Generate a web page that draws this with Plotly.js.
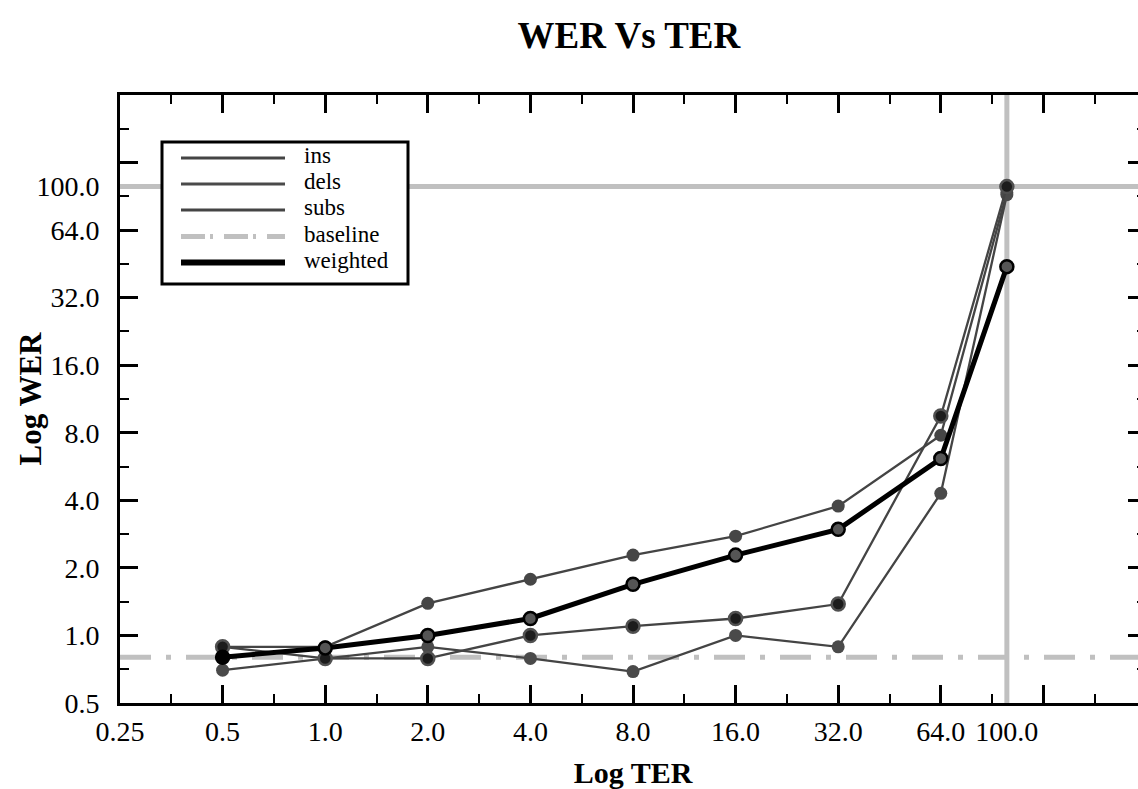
<!DOCTYPE html>
<html><head><meta charset="utf-8">
<script src="https://cdn.plot.ly/plotly-3.0.1.min.js"></script>
<style>html,body{margin:0;padding:0;overflow:hidden;background:#fff}#chart{width:1160px;height:789px}</style>
</head><body><div id="chart"></div>
<script>
// ---- data ----
const terValues   = [0.5, 1, 2, 4, 8, 16, 32, 64, 100];
const insWER      = [0.89, 0.89, 1.39, 1.78, 2.28, 2.77, 3.77, 7.8, 94];
const delsWER     = [0.7, 0.79, 0.89, 0.79, 0.69, 1.0, 0.89, 4.3, 92];
const subsWER     = [0.89, 0.79, 0.79, 1.0, 1.1, 1.19, 1.38, 9.5, 100];
const weightedWER = [0.8, 0.88, 1.0, 1.19, 1.69, 2.28, 2.97, 6.14, 44];
const baselineTER = [0.25, 256];
const baselineWER = [0.8, 0.8];
const seriesNames = ['ins', 'dels', 'subs', 'baseline', 'weighted'];
const xTickVals = [0.25, 0.5, 1, 2, 4, 8, 16, 32, 64, 128, 256];
const xTickText = ['0.25', '0.5', '1.0', '2.0', '4.0', '8.0', '16.0', '32.0', '64.0', '', ''];
const yTickVals = [0.5, 1, 2, 4, 8, 16, 32, 64, 128, 256];
const yTickText = ['0.5', '1.0', '2.0', '4.0', '8.0', '16.0', '32.0', '64.0', '', ''];
const refTER = 100, refWER = 100, refLabel = '100.0';
const chartTitle = 'WER Vs TER', xTitle = 'Log TER', yTitle = 'Log WER';

// ---- geometry / style ----
const W = 1160, H = 789, ML = 120, MR = 14, MT = 95, MB = 86;
const FONT = 'Liberation Serif, serif';
const TICKSIZE = 28;
const xMinor = xTickVals.slice(0, -1).map(v => v * Math.SQRT2);
const yMinor = yTickVals.slice(0, -1).map(v => v * Math.SQRT2);
const xRange = [Math.log10(0.25), Math.log10(256)];
const yRange = [Math.log10(0.5), Math.log10(256)];
const thin = '#444444', gray = '#c0c0c0';
const weightedFill = terValues.map((v, i) => i === 0 ? '#000000' : '#555555');

function baseAxis(range, vals, text, minor) {
  return {
    type: 'log', range: range, autorange: false, fixedrange: true,
    tickmode: 'array', tickvals: vals, ticktext: text,
    ticks: 'inside', ticklen: 18, tickwidth: 3, tickcolor: '#000',
    showline: true, linewidth: 3, linecolor: '#000', mirror: 'allticks',
    showgrid: false, zeroline: false,
    minor: {tickmode: 'array', tickvals: minor, ticks: 'inside', ticklen: 9, tickwidth: 2, tickcolor: '#000', showgrid: false},
    tickfont: {family: FONT, size: TICKSIZE, color: '#000'}
  };
}

const traces = [
  {x: baselineTER, y: baselineWER, name: seriesNames[3], mode: 'lines',
   line: {color: gray, width: 5, dash: '31px,15px,5px,15px'}},
  {x: terValues, y: insWER, name: seriesNames[0], mode: 'lines+markers',
   line: {color: thin, width: 2.3}, marker: {size: 13, color: '#464646'}},
  {x: terValues, y: delsWER, name: seriesNames[1], mode: 'lines+markers',
   line: {color: thin, width: 2.3}, marker: {size: 13, color: '#4a4a4a'}},
  {x: terValues, y: subsWER, name: seriesNames[2], mode: 'lines+markers',
   line: {color: thin, width: 2.3}, marker: {size: 13, color: '#1c1c1c', line: {color: '#505050', width: 2.5}}},
  {x: terValues, y: weightedWER, name: seriesNames[4], mode: 'lines+markers',
   line: {color: '#000', width: 5}, marker: {size: 13, color: weightedFill, line: {color: '#000', width: 2.5}}},
  // empty trace that only carries the overlay axes holding the "100.0" labels
  {x: [], y: [], xaxis: 'x2', yaxis: 'y2', mode: 'markers', showlegend: false, hoverinfo: 'skip'}
];

const xaxis = baseAxis(xRange, xTickVals, xTickText, xMinor);
xaxis.title = {text: xTitle, font: {family: FONT, size: 30, weight: 'bold', color: '#000'}, standoff: 20};
xaxis.ticklabelstandoff = 1;
const yaxis = baseAxis(yRange, yTickVals, yTickText, yMinor);
yaxis.title = {text: yTitle, font: {family: FONT, size: 31, weight: 'bold', color: '#000'}, standoff: 0};
yaxis.ticklabelstandoff = 12;

function labelAxis(range, val, base) {
  return {
    type: 'log', range: range, autorange: false, fixedrange: true,
    tickmode: 'array', tickvals: [val], ticktext: [refLabel],
    ticks: '', showline: true, linewidth: 3, linecolor: '#000',
    showgrid: false, zeroline: false,
    tickfont: {family: FONT, size: TICKSIZE, color: '#000'},
    ticklabelstandoff: base.ticklabelstandoff
  };
}
const xaxis2 = Object.assign(labelAxis(xRange, refTER, xaxis), {overlaying: 'x', anchor: 'y2', side: 'bottom'});
const yaxis2 = Object.assign(labelAxis(yRange, refWER, yaxis), {overlaying: 'y', anchor: 'x2', side: 'left'});

// custom legend (pixel positions converted to paper coordinates)
const pw = W - ML - MR, ph = H - MT - MB;
const px = v => (v - ML) / pw, py = v => (H - MB - v) / ph;
const legendRows = [158, 184, 210, 236.5, 262.5];
const legendStyles = [
  {color: thin, width: 3}, {color: '#4a4a4a', width: 3}, {color: thin, width: 3},
  {color: gray, width: 5, dash: '24px,5px,3px,11px'}, {color: '#000', width: 6}
];
const legendOrder = [0, 1, 2, 3, 4];

const shapes = [
  {type: 'line', layer: 'below', xref: 'x', yref: 'paper', x0: refTER, x1: refTER, y0: 0, y1: 1, line: {color: gray, width: 5}},
  {type: 'line', layer: 'below', xref: 'paper', yref: 'y', x0: 0, x1: 1, y0: refWER, y1: refWER, line: {color: gray, width: 5}},
  {type: 'rect', layer: 'above', xref: 'paper', yref: 'paper', x0: px(162), x1: px(408), y0: py(142), y1: py(284),
   fillcolor: '#fff', line: {color: '#000', width: 3}}
];
const annotations = [];
legendOrder.forEach((k, i) => {
  shapes.push({type: 'line', layer: 'above', xref: 'paper', yref: 'paper', x0: px(181), x1: px(285), y0: py(legendRows[i]), y1: py(legendRows[i]), line: legendStyles[i]});
  annotations.push({xref: 'paper', yref: 'paper', x: px(302), y: py(legendRows[i] - 2), xanchor: 'left', yanchor: 'middle',
    text: seriesNames[k], showarrow: false, font: {family: FONT, size: 23, color: '#000'}});
});

const layout = {
  width: W, height: H, margin: {l: ML, r: MR, t: MT, b: MB, autoexpand: false},
  paper_bgcolor: '#fff', plot_bgcolor: '#fff', showlegend: false,
  title: {text: chartTitle, font: {family: FONT, size: 37, weight: 'bold', color: '#000'},
          xref: 'paper', x: 0.496, xanchor: 'center', yref: 'container', y: 1 - 35 / H, yanchor: 'middle'},
  xaxis: xaxis, yaxis: yaxis, xaxis2: xaxis2, yaxis2: yaxis2,
  shapes: shapes, annotations: annotations
};
Plotly.newPlot('chart', traces, layout, {staticPlot: true, displayModeBar: false});
</script></body></html>
